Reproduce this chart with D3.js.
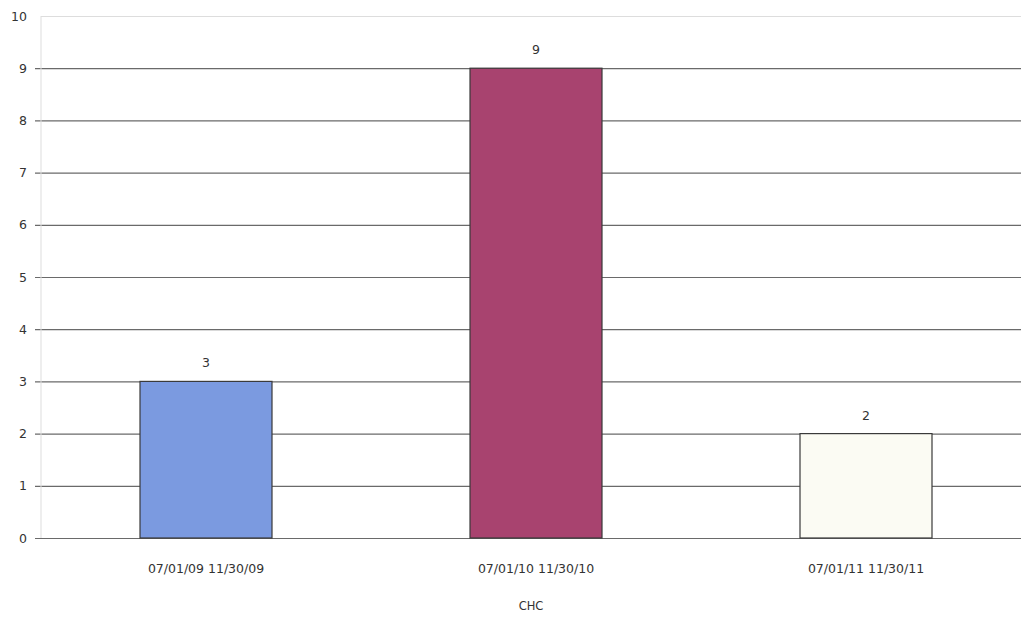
<!DOCTYPE html>
<html>
<head>
<meta charset="utf-8">
<script src="https://cdn.jsdelivr.net/npm/d3@7"></script>
<style>
  body { margin: 0; background: #fff; }
  text { font-family: "DejaVu Sans", sans-serif; fill: #333; }
</style>
</head>
<body>
<svg id="chart" width="1021" height="619"></svg>
<script>
const periods = ["07/01/09 11/30/09", "07/01/10 11/30/10", "07/01/11 11/30/11"];
const counts = [3, 9, 2];
const barColors = ["#7b9ae0", "#a8436f", "#fbfbf3"];
const yTicks = [0, 1, 2, 3, 4, 5, 6, 7, 8, 9, 10];
const xTitle = "CHC";

const svg = d3.select("#chart");
const plotL = 41, plotR = 1031, plotT = 16, plotB = 538;

const x = d3.scaleBand().domain(periods).range([plotL, plotR]).paddingInner(0.6).paddingOuter(0.3);
const y = d3.scaleLinear().domain([0, 10]).range([plotB, plotT]);

// gridlines
svg.append("g")
  .attr("transform", `translate(${plotL},0)`)
  .call(d3.axisLeft(y).tickValues(yTicks).tickSize(-(plotR - plotL)).tickFormat(""))
  .call(g => g.select(".domain").remove())
  .call(g => g.selectAll("line").attr("stroke", "#6a6a6a").attr("stroke-width", 1.2).attr("x1", -6))
  .call(g => g.selectAll(".tick").filter(d => d === 10).select("line").attr("stroke", "#ddd").attr("x1", 0));

// faint left axis line
svg.append("line")
  .attr("x1", plotL).attr("x2", plotL).attr("y1", plotT).attr("y2", plotB)
  .attr("stroke", "#ddd");

// y labels
svg.append("g")
  .attr("transform", `translate(${plotL - 2},0)`)
  .call(d3.axisLeft(y).tickValues(yTicks).tickSize(0).tickPadding(12))
  .call(g => g.select(".domain").remove())
  .call(g => g.selectAll("text").attr("font-size", 12.5).style("fill", "#333"));

// bars
svg.selectAll("rect.bar")
  .data(periods)
  .join("rect")
  .attr("class", "bar")
  .attr("x", d => x(d))
  .attr("width", x.bandwidth())
  .attr("y", (d, i) => y(counts[i]))
  .attr("height", (d, i) => y(0) - y(counts[i]))
  .attr("fill", (d, i) => barColors[i])
  .attr("stroke", "#3a3a3a")
  .attr("stroke-width", 1.2);

// value labels
svg.selectAll("text.val")
  .data(periods)
  .join("text")
  .attr("class", "val")
  .attr("x", d => x(d) + x.bandwidth() / 2)
  .attr("y", (d, i) => y(counts[i]) - 14)
  .attr("text-anchor", "middle")
  .attr("font-size", 12.5)
  .text((d, i) => counts[i]);

// x labels
svg.append("g")
  .attr("transform", `translate(0,${plotB})`)
  .call(d3.axisBottom(x).tickSize(0).tickPadding(26))
  .call(g => g.select(".domain").remove())
  .call(g => g.selectAll("text").attr("font-size", 12.5).style("fill", "#333"));

svg.append("text")
  .attr("x", (plotL + plotR) / 2 - 5)
  .attr("y", 610)
  .attr("text-anchor", "middle")
  .attr("font-size", 11.5)
  .text(xTitle);
</script>
</body>
</html>
